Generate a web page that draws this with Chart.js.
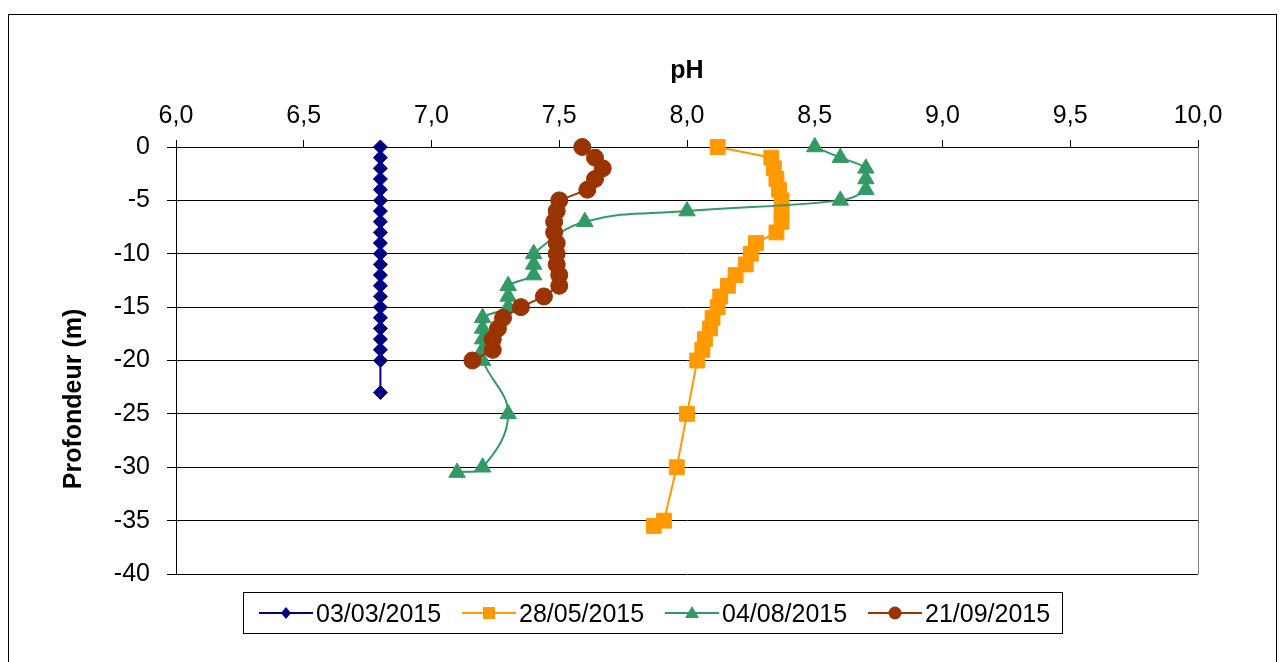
<!DOCTYPE html>
<html>
<head>
<meta charset="utf-8">
<script src="https://cdn.jsdelivr.net/npm/chart.js@4.4.1/dist/chart.umd.min.js"></script>
<style>
  body { margin: 0; background: #fff; }
  #wrap { position: relative; width: 1284px; height: 662px; overflow: hidden; }
  #frame { position: absolute; left: 8px; top: 14px; width: 1267px; height: 700px; border: 1px solid #000; }
  #chartPh { position: absolute; left: 0; top: 0; }
  #legend { position: absolute; left: 243px; top: 592px; width: 818px; height: 40px; border: 1px solid #000;
            font: 25px "Liberation Sans", Arial, sans-serif; color: #000; }
  .item { position: absolute; top: 0; height: 40px; display: flex; align-items: center; white-space: nowrap; }
  .item svg { margin-right: 3px; }
</style>
</head>
<body>
<div id="wrap">
  <div id="frame"></div>
  <canvas id="chartPh" width="1284" height="662"></canvas>
  <div id="legend"></div>
</div>
<script>
// series labels
var seriesNames = ["03/03/2015", "28/05/2015", "04/08/2015", "21/09/2015"];

// 03/03/2015
var depth1 = [0, -1, -2, -3, -4, -5, -6, -7, -8, -9, -10, -11, -12, -13, -14, -15, -16, -17, -18, -19, -20, -23];
var ph1 = [6.8, 6.8, 6.8, 6.8, 6.8, 6.8, 6.8, 6.8, 6.8, 6.8, 6.8, 6.8, 6.8, 6.8, 6.8, 6.8, 6.8, 6.8, 6.8, 6.8, 6.8, 6.8];

// 28/05/2015
var depth2 = [0, -1, -2, -3, -4, -5, -6, -7, -8, -9, -10, -11, -12, -13, -14, -15, -16, -17, -18, -19, -20, -25, -30, -35, -35.5];
var ph2 = [8.12, 8.33, 8.34, 8.35, 8.36, 8.37, 8.37, 8.37, 8.35, 8.27, 8.25, 8.23, 8.19, 8.16, 8.13, 8.12, 8.10, 8.09, 8.07, 8.06, 8.04, 8.00, 7.96, 7.91, 7.87];

// 04/08/2015
var depth3 = [0, -1, -2, -3, -4, -5, -6, -7, -10, -11, -12, -13, -14, -15, -16, -17, -18, -19, -20, -25, -30, -30.5];
var ph3 = [8.5, 8.6, 8.7, 8.7, 8.7, 8.6, 8.0, 7.6, 7.4, 7.4, 7.4, 7.3, 7.3, 7.3, 7.2, 7.2, 7.2, 7.2, 7.2, 7.3, 7.2, 7.1];

// 21/09/2015
var depth4 = [0, -1, -2, -3, -4, -5, -6, -7, -8, -9, -10, -11, -12, -13, -14, -15, -16, -17, -18, -19, -20];
var ph4 = [7.59, 7.64, 7.67, 7.64, 7.61, 7.50, 7.49, 7.48, 7.48, 7.49, 7.49, 7.49, 7.50, 7.50, 7.44, 7.35, 7.28, 7.26, 7.24, 7.24, 7.16];

var navy = "#000080", orange = "#FF9900", green = "#339966", brown = "#993300";
var fontName = '"Liberation Sans", Arial, sans-serif';

function points(xs, ys) {
  return xs.map(function(x, i) { return {x: x, y: ys[i]}; });
}

function makeSet(name, xs, ys, color, style, radius, order, tension) {
  return {
    label: name,
    data: points(xs, ys),
    showLine: true,
    borderColor: color,
    backgroundColor: color,
    borderWidth: 2,
    pointStyle: style,
    pointRadius: radius,
    pointBorderWidth: 1,
    pointBorderColor: color,
    pointBackgroundColor: color,
    tension: tension,
    order: order,
    clip: false
  };
}

var data = {
  datasets: [
    makeSet(seriesNames[0], ph1, depth1, navy, 'rectRot', 7, 4, 0),
    makeSet(seriesNames[1], ph2, depth2, orange, 'rect', 10.5, 3, 0),
    makeSet(seriesNames[2], ph3, depth3, green, 'triangle', 9.5, 2, 0.4),
    makeSet(seriesNames[3], ph4, depth4, brown, 'circle', 8.5, 1, 0)
  ]
};

// gray right edge of plot area + vertical axis title
var plotExtras = {
  id: 'plotExtras',
  beforeDatasetsDraw: function(chart) {
    var a = chart.chartArea, ctx = chart.ctx;
    ctx.save();
    ctx.strokeStyle = "#808080";
    ctx.lineWidth = 1;
    ctx.beginPath();
    ctx.moveTo(Math.round(a.right) + 0.5, a.top);
    ctx.lineTo(Math.round(a.right) + 0.5, a.bottom);
    ctx.stroke();
    ctx.restore();
  },
  afterDraw: function(chart) {
    var ctx = chart.ctx;
    ctx.save();
    ctx.translate(74, 399);
    ctx.rotate(-Math.PI / 2);
    ctx.font = "bold 25px " + fontName;
    ctx.fillStyle = "#000";
    ctx.textAlign = "center";
    ctx.textBaseline = "middle";
    ctx.fillText("Profondeur (m)", 0, 0);
    ctx.restore();
  }
};

var ctx = document.getElementById("chartPh").getContext("2d");
var phChart = new Chart(ctx, {
  type: 'scatter',
  data: data,
  plugins: [plotExtras],
  options: {
    responsive: false,
    animation: false,
    layout: { padding: { left: 0, top: 0, right: 86, bottom: 88 }, autoPadding: false },
    plugins: { legend: { display: false }, tooltip: { enabled: false } },
    scales: {
      x: {
        type: 'linear',
        position: 'top',
        min: 6, max: 10,
        afterFit: function(s) { s.height = 147; },
        ticks: {
          stepSize: 0.5,
          color: "#000",
          font: { family: fontName, size: 25 },
          padding: 9,
          maxRotation: 0,
          callback: function(v) { return v.toFixed(1).replace(".", ","); }
        },
        grid: { drawOnChartArea: false, drawTicks: true, tickLength: 7, color: "#000" },
        border: { display: true, color: "#000", width: 1 },
        title: {
          display: true, text: "pH", color: "#000",
          font: { family: fontName, size: 25, weight: 'bold' },
          padding: { top: 56, bottom: 0 }
        }
      },
      y: {
        type: 'linear',
        min: -40, max: 0,
        afterFit: function(s) { s.width = 176; },
        ticks: {
          stepSize: 5,
          color: "#000",
          font: { family: fontName, size: 25 },
          padding: 17
        },
        grid: { drawOnChartArea: true, drawTicks: true, tickLength: 9, color: "#000", lineWidth: 1 },
        border: { display: true, color: "#000", width: 1 }
      }
    }
  }
});

// legend with line + marker swatches
function markerSvg(style, color) {
  var shape;
  if (style === 'rectRot') shape = '<polygon points="27,4 32,10 27,16 22,10" fill="' + color + '"/>';
  else if (style === 'rect') shape = '<rect x="21" y="4" width="12" height="12" fill="' + color + '"/>';
  else if (style === 'triangle') shape = '<polygon points="27,3 34,15 20,15" fill="' + color + '"/>';
  else shape = '<circle cx="27" cy="10" r="6.5" fill="' + color + '"/>';
  return '<svg width="54" height="20" viewBox="0 0 54 20"><line x1="0" y1="10" x2="54" y2="10" stroke="' +
    color + '" stroke-width="2"/>' + shape + '</svg>';
}
var legendStarts = [15, 218, 421, 624];
var legend = document.getElementById("legend");
data.datasets.forEach(function(ds, i) {
  var item = document.createElement("div");
  item.className = "item";
  item.style.left = legendStarts[i] + "px";
  item.innerHTML = markerSvg(ds.pointStyle, ds.borderColor) + '<span>' + ds.label + '</span>';
  legend.appendChild(item);
});
</script>
</body>
</html>
